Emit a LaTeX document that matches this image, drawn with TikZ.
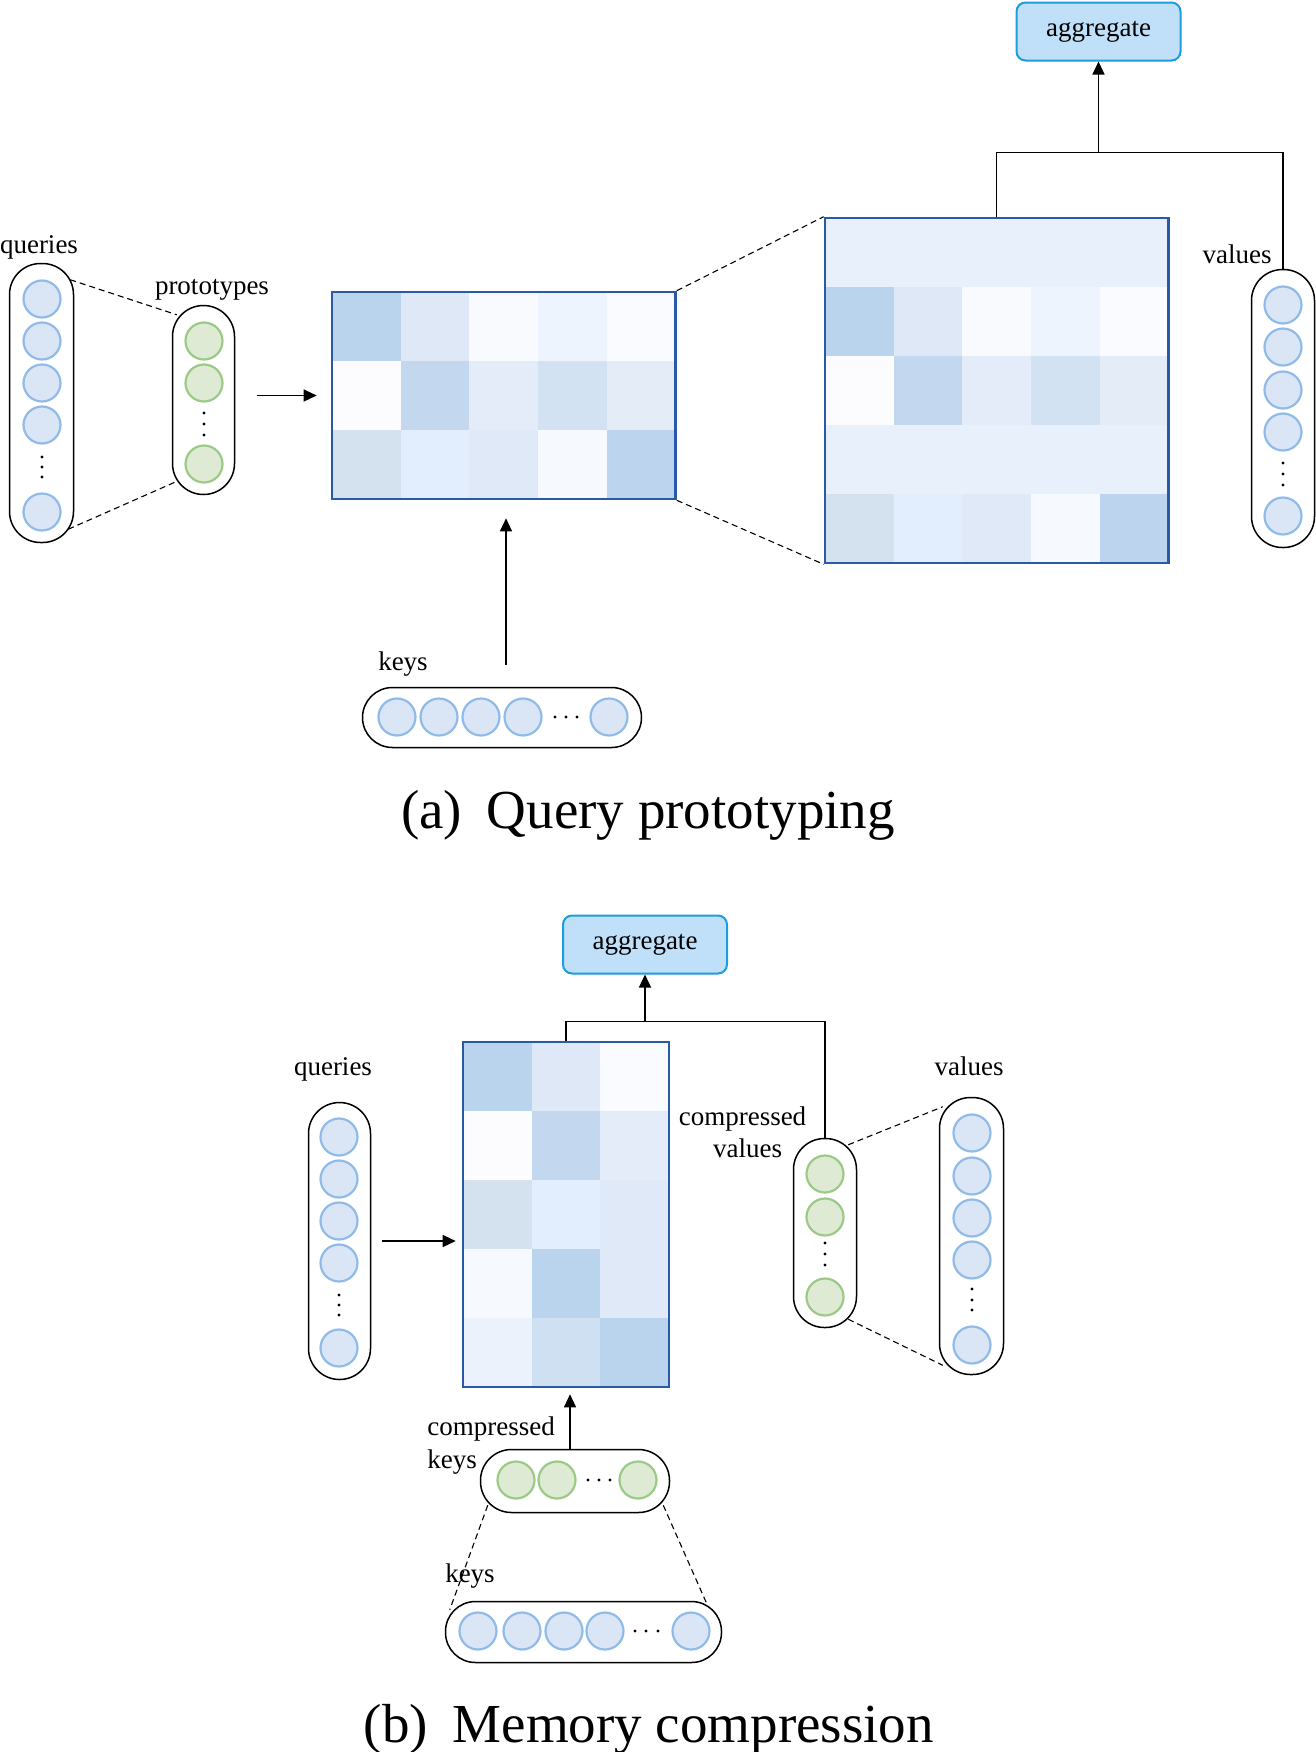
\documentclass[tikz,border=0pt]{standalone}
\usepackage{fontspec}
\setmainfont{Liberation Serif}
\usetikzlibrary{arrows.meta}
\definecolor{cblue}{HTML}{DAE6F6}
\definecolor{cblueb}{HTML}{90BBE8}
\definecolor{cgreen}{HTML}{DEEAD4}
\definecolor{cgreenb}{HTML}{9CCA86}
\definecolor{matb}{HTML}{2A5AA5}
\definecolor{aggf}{HTML}{BFE0F8}
\definecolor{aggb}{HTML}{1E9CE0}
\newcommand\cellgrid[4]{%
  \foreach \hexc [count=\idx from 0] in {#4} {
    \pgfmathtruncatemacro\ci{mod(\idx,#3)}
    \pgfmathtruncatemacro\ri{div(\idx,#3)}
    \definecolor{cellc}{HTML}{\hexc}
    \fill[cellc] ({#1+\ci*68.7},{#2+\ri*69}) rectangle ++(68.7,69);
  }}
\begin{document}
\begin{tikzpicture}[x=0.5pt,y=-0.5pt,
  lbl/.style={font=\fontsize{13.5pt}{16pt}\selectfont, inner sep=0pt, anchor=base},
  capt/.style={font=\fontsize{27.5pt}{33pt}\selectfont, inner sep=0pt, anchor=base},
  capsule/.style={draw=black, line width=0.75pt, rounded corners=15.5pt, inner sep=0pt},
  bcirc/.style={circle, draw=cblueb, fill=cblue, line width=1.1pt, minimum size=18.5pt, inner sep=0pt},
  gcirc/.style={circle, draw=cgreenb, fill=cgreen, line width=1.1pt, minimum size=18.5pt, inner sep=0pt},
  vdot/.style={circle, fill=black, minimum size=1.7pt, inner sep=0pt},
  matframe/.style={draw=matb, line width=1.3pt, inner sep=0pt},
  agg/.style={draw=aggb, fill=aggf, rounded corners=4.5pt, line width=1pt, inner sep=0pt,
    minimum width=82pt, minimum height=29pt, font=\fontsize{13.5pt}{16pt}\selectfont},
  arr/.style={-{Triangle[length=6.5pt,width=6pt]}, line width=0.65pt},
  link/.style={line width=0.65pt},
  dashln/.style={dash pattern=on 3pt off 2pt, line width=0.55pt}]
\useasboundingbox (0,0) rectangle (1316,1752);

% ================= (a) =================
% queries
\node[lbl] (lqa) at (39,253) {queries};
\node[capsule, minimum width=32pt, minimum height=139.5pt] (qcap) at (41.5,403) {};
\foreach \yy [count=\i] in {299,341,383,425,512} \node[bcirc] (qa\i) at (42,\yy) {};
\foreach \yy in {457,467,477} \node[vdot] (qad\yy) at (42,\yy) {};
% prototypes
\node[lbl] (lpa) at (212,294) {prototypes};
\node[capsule, minimum width=31pt, minimum height=94.5pt] (pcap) at (203.5,400) {};
\foreach \yy [count=\i] in {341,383,464} \node[gcirc] (pa\i) at (204,\yy) {};
\foreach \yy in {413,424,435} \node[vdot] (pad\yy) at (204,\yy) {};
\draw[dashln] ([shift={(-4,17)}]qcap.north east) -- ([shift={(5,10)}]pcap.north west);
\draw[dashln] ([shift={(-6,-14)}]qcap.south east) -- ([shift={(3,-13)}]pcap.south west);
% matrix 1
\cellgrid{332}{292}{5}{BBD4EE,DEE8F7,F8FAFE,EEF4FD,F9FBFE,FCFCFF,C3D8EF,E3ECF8,D2E2F3,E4ECF8,D4E1EF,E2EEFD,DFE9F7,F6FAFE,BCD4EE}
\node[matframe, minimum width=171.75pt, minimum height=103.5pt] (m1) at (503.75,395.5) {};
\draw[arr] ([xshift=11pt]pcap.east |- m1.west) -- ([xshift=-7pt]m1.west);
% matrix 2
\cellgrid{825}{218}{5}{E8F0FB,E8F0FB,E8F0FB,E8F0FB,E8F0FB,BBD4EE,DEE8F7,F8FAFE,EEF4FD,F9FBFE,FCFCFF,C3D8EF,E3ECF8,D2E2F3,E4ECF8,E8F0FB,E8F0FB,E8F0FB,E8F0FB,E8F0FB,D4E1EF,E2EEFD,DFE9F7,F6FAFE,BCD4EE}
\node[matframe, minimum width=171.75pt, minimum height=172.5pt] (m2) at (996.75,390.5) {};
\draw[dashln] (m1.north east) -- (m2.north west);
\draw[dashln] (m1.south east) -- (m2.south west);
% values
\node[lbl] (lva) at (1237,263) {values};
\node[capsule, minimum width=31.5pt, minimum height=139pt] (vcap) at (1283,408.5) {};
\foreach \yy [count=\i] in {305,347,390,432,516} \node[bcirc] (va\i) at (1283,\yy) {};
\foreach \yy in {463,474,485} \node[vdot] (vad\yy) at (1283,\yy) {};
% aggregate
\node[agg] (agga) at (1098.5,31.5) {aggregate};
\path (agga.south) ++(0,91) coordinate (ja);
\draw[link] (m2.north) |- (ja) -| (vcap.north);
\draw[arr] (ja) -- (agga.south);
% keys
\node[lbl] (lka) at (403,670) {keys};
\node[capsule, minimum width=139.5pt, minimum height=30pt, rounded corners=15pt] (kcap) at (502,717.5) {};
\foreach \xx [count=\i] in {397,439,481,523,609} \node[bcirc] (ka\i) at (\xx,717) {};
\foreach \xx in {555,566,577} \node[vdot] (kad\xx) at (\xx,717) {};
\draw[arr] ([xshift=2pt,yshift=11pt]kcap.north) -- ([xshift=2pt,yshift=-9pt]kcap.north |- m1.south);
\node[capt] (capa) at (648,828) {(a)\hspace{0.45em}Query prototyping};

% ================= (b) =================
\node[agg] (aggb) at (645,944.5) {aggregate};
% queries
\node[lbl] (lqb) at (333,1075) {queries};
\node[capsule, minimum width=31pt, minimum height=138.5pt] (qcap2) at (339.5,1241) {};
\foreach \yy [count=\i] in {1137,1179,1221,1263,1348} \node[bcirc] (qb\i) at (339,\yy) {};
\foreach \yy in {1295,1305,1315} \node[vdot] (qbd\yy) at (339,\yy) {};
% matrix 3
\cellgrid{463}{1042}{3}{BBD4EE,DFE8F7,F9FBFE,FCFCFF,C3D8EF,E3ECF8,D4E1EF,E2EEFD,DFE9F7,F6F9FE,BBD4EE,DFE9F7,EBF2FC,D0E0F3,BBD4EE}
\node[matframe, minimum width=103.05pt, minimum height=172.5pt] (m3) at (566.05,1214.5) {};
\draw[arr] ([xshift=5.5pt]qcap2.east) -- ([xshift=-3pt]qcap2.east -| m3.west);
% compressed values
\node[lbl] (lcv1) at (742.5,1125) {compressed};
\node[lbl] (lcv2) at (747.5,1157) {values};
\node[capsule, minimum width=31.5pt, minimum height=94.5pt] (cvcap) at (825,1233) {};
\foreach \yy [count=\i] in {1174,1217,1297} \node[gcirc] (cv\i) at (825,\yy) {};
\foreach \yy in {1243,1254,1265} \node[vdot] (cvd\yy) at (825,\yy) {};
% values
\node[lbl] (lvb) at (969,1075) {values};
\node[capsule, minimum width=32pt, minimum height=138.5pt] (vcap2) at (971.5,1236) {};
\foreach \yy [count=\i] in {1133,1176,1218,1260,1345} \node[bcirc] (vb\i) at (972,\yy) {};
\foreach \yy in {1289,1300,1310} \node[vdot] (vbd\yy) at (972,\yy) {};
\draw[dashln] ([shift={(-9,7)}]cvcap.north east) -- ([shift={(4,10)}]vcap2.north west);
\draw[dashln] ([shift={(-9,-9)}]cvcap.south east) -- ([shift={(4,-10)}]vcap2.south west);
% aggregate tree
\path (aggb.south) ++(0,47) coordinate (jb);
\draw[link] (m3.north) |- (jb) -| (cvcap.north);
\draw[arr] (jb) -- (aggb.south);
% compressed keys
\node[lbl, anchor=base west] (lck1) at (427,1435) {compressed};
\node[lbl, anchor=base west] (lck2) at (427,1468) {keys};
\node[capsule, minimum width=94.5pt, minimum height=31.5pt] (ckcap) at (575,1481) {};
\foreach \xx [count=\i] in {516,557,638} \node[gcirc] (ck\i) at (\xx,1480) {};
\foreach \xx in {588,599,610} \node[vdot] (ckd\xx) at (\xx,1480) {};
\draw[arr] ([xshift=-2.5pt]ckcap.north) -- ([xshift=-2.5pt,yshift=-3pt]ckcap.north |- m3.south);
% keys
\node[lbl] (lkb) at (470,1582) {keys};
\node[capsule, minimum width=138pt, minimum height=30.5pt, rounded corners=15pt] (kcap2) at (583.5,1632) {};
\foreach \xx [count=\i] in {478,522,564,605,691} \node[bcirc] (kb\i) at (\xx,1631) {};
\foreach \xx in {635,646,658} \node[vdot] (kbd\xx) at (\xx,1631) {};
\draw[dashln] ([shift={(8,-8)}]ckcap.south west) -- ([shift={(5,9)}]kcap2.north west);
\draw[dashln] ([shift={(-7,-8)}]ckcap.south east) -- ([shift={(-15,4)}]kcap2.north east);
\node[capt] (capb) at (649,1742) {(b)\hspace{0.45em}Memory compression};
\end{tikzpicture}
\end{document}
